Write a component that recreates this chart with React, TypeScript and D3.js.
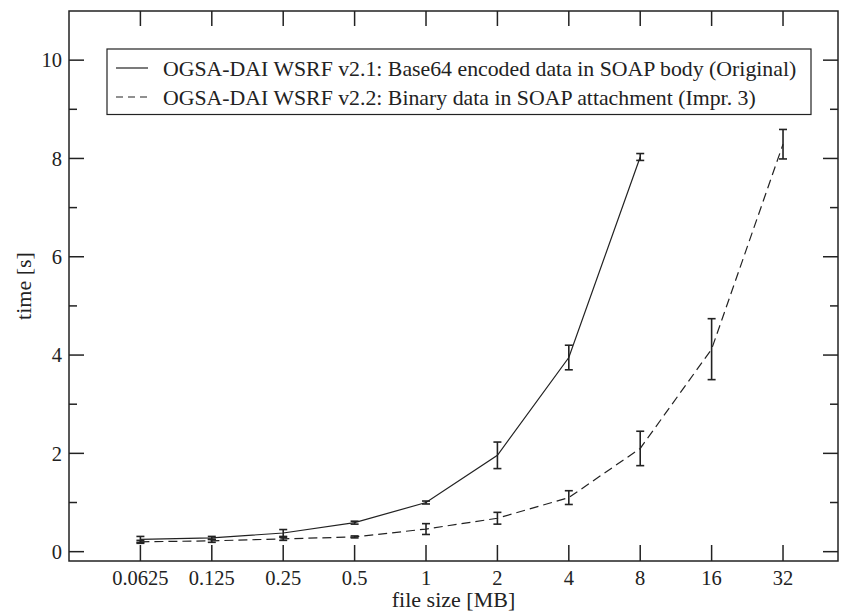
import React from "react";
import * as d3 from "d3";

const fileSizes = [0.0625, 0.125, 0.25, 0.5, 1, 2, 4, 8, 16, 32];
const xTickLabels = ["0.0625", "0.125", "0.25", "0.5", "1", "2", "4", "8", "16", "32"];

const origX = [0.0625, 0.125, 0.25, 0.5, 1, 2, 4, 8];
const origY = [0.25, 0.28, 0.38, 0.59, 1.0, 1.96, 3.95, 8.03];
const origErr = [0.06, 0.03, 0.07, 0.03, 0.03, 0.27, 0.25, 0.07];

const implX = [0.0625, 0.125, 0.25, 0.5, 1, 2, 4, 8, 16, 32];
const implY = [0.2, 0.22, 0.26, 0.3, 0.46, 0.68, 1.1, 2.1, 4.12, 8.29];
const implErr = [0.03, 0.03, 0.03, 0.02, 0.11, 0.12, 0.14, 0.35, 0.62, 0.3];

const yMajor = [0, 2, 4, 6, 8, 10];
const yMinor = [1, 3, 5, 7, 9];

const legendLabels = [
  "OGSA-DAI WSRF v2.1: Base64 encoded data in SOAP body (Original)",
  "OGSA-DAI WSRF v2.2: Binary data in SOAP attachment (Impr. 3)",
];

const W = 846;
const H = 615;
const L = 69, R = 838, T = 11, B = 561;
const FONT = "'Liberation Serif', 'DejaVu Serif', serif";
const INK = "#222";

const x = d3.scaleLog().base(2).domain([Math.pow(2, -5), Math.pow(2, 5.77)]).range([L, R]);
const y = d3.scaleLinear().domain([-0.19, 11]).range([B, T]);

function seriesPath(xs: number[], ys: number[]): string {
  return d3.line<number>()
    .x((d) => x(d))
    .y((_, i) => y(ys[i]))(xs) || "";
}

function ErrorBars({ xs, ys, es }: { xs: number[]; ys: number[]; es: number[] }) {
  return (
    <g stroke={INK} strokeWidth={1.6} fill="none">
      {xs.map((xv, i) => {
        const cx = x(xv);
        const y1 = y(ys[i] + es[i]);
        const y2 = y(ys[i] - es[i]);
        return (
          <g key={i}>
            <line x1={cx} x2={cx} y1={y1} y2={y2} />
            <line x1={cx - 4} x2={cx + 4} y1={y1} y2={y1} />
            <line x1={cx - 4} x2={cx + 4} y1={y2} y2={y2} />
          </g>
        );
      })}
    </g>
  );
}

export default function App() {
  return (
    <svg width={W} height={H} style={{ position: "absolute", left: 0, top: 0, background: "#fff" }}>
      <rect x={0} y={0} width={W} height={H} fill="#fff" />
      {/* data lines */}
      <path d={seriesPath(origX, origY)} fill="none" stroke={INK} strokeWidth={1.2} />
      <path d={seriesPath(implX, implY)} fill="none" stroke={INK} strokeWidth={1.2} strokeDasharray="9,5" />
      <ErrorBars xs={origX} ys={origY} es={origErr} />
      <ErrorBars xs={implX} ys={implY} es={implErr} />

      {/* frame */}
      <rect x={L} y={T} width={R - L} height={B - T} fill="none" stroke={INK} strokeWidth={1.5} />

      {/* ticks */}
      <g stroke={INK} strokeWidth={1.5}>
        {fileSizes.map((v, i) => (
          <g key={i}>
            <line x1={x(v)} x2={x(v)} y1={B} y2={B - 16} />
            <line x1={x(v)} x2={x(v)} y1={T} y2={T + 15} />
          </g>
        ))}
        {yMajor.map((v, i) => (
          <g key={i}>
            <line x1={L} x2={L + 15} y1={y(v)} y2={y(v)} />
            <line x1={R} x2={R - 15} y1={y(v)} y2={y(v)} />
          </g>
        ))}
        {yMinor.map((v, i) => (
          <g key={i}>
            <line x1={L} x2={L + 8} y1={y(v)} y2={y(v)} />
            <line x1={R} x2={R - 8} y1={y(v)} y2={y(v)} />
          </g>
        ))}
      </g>

      <g fontFamily={FONT} fontSize={20.5} fill={INK}>
        {fileSizes.map((v, i) => (
          <text key={i} x={x(v)} y={585} textAnchor="middle">{xTickLabels[i]}</text>
        ))}
        {yMajor.map((v, i) => (
          <text key={i} x={62} y={y(v)} dy="0.35em" textAnchor="end">{String(v)}</text>
        ))}
      </g>
      <g fontFamily={FONT} fontSize={22} fill={INK}>
        <text x={(L + R) / 2} y={607} textAnchor="middle">file size [MB]</text>
        <text transform={`translate(31, ${(T + B) / 2}) rotate(-90)`} textAnchor="middle">time [s]</text>
      </g>

      {/* legend */}
      <rect x={107} y={49} width={704} height={65.5} fill="#fff" stroke={INK} strokeWidth={1.2} />
      <line x1={116} x2={148} y1={68} y2={68} stroke={INK} strokeWidth={1.2} />
      <line x1={116} x2={148} y1={97} y2={97} stroke={INK} strokeWidth={1.2} strokeDasharray="7,5" />
      <g fontFamily={FONT} fontSize={21.8} fill={INK}>
        <text x={163} y={68} dy="0.35em">{legendLabels[0]}</text>
        <text x={163} y={97} dy="0.35em">{legendLabels[1]}</text>
      </g>
    </svg>
  );
}
